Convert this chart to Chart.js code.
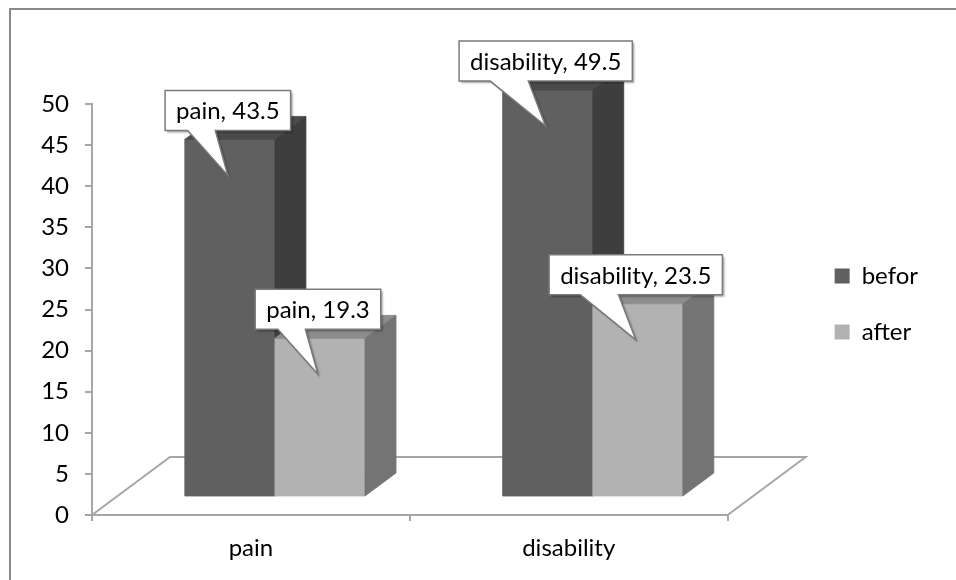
<!DOCTYPE html>
<html>
<head>
<meta charset="utf-8">
<script src="https://cdn.jsdelivr.net/npm/chart.js@4.4.1/dist/chart.umd.min.js"></script>
<style>
  html, body { margin: 0; padding: 0; background: #fff; }
  canvas { display: block; }
</style>
</head>
<body>
<canvas id="chart" width="956" height="580"></canvas>
<script>
// ---- data ----
const categories = ['pain', 'disability'];
const seriesNames = ['befor', 'after'];
const beforValues = [43.5, 49.5];
const afterValues = [19.3, 23.5];
const yMin = 0, yMax = 50, yStep = 5;

// ---- look of the 3D columns ----
const FLOOR_DEPTH = { dx: 78, dy: -58 };   // depth of the floor plate
const BAR_SHIFT   = { dx: 24, dy: -18 };   // columns stand mid-depth on the floor
const BAR_DEPTH   = { dx: 31, dy: -23 };   // thickness of each column
const LINE_GRAY = '#a6a6a6';
const FONT = { family: 'Lato', size: 24 };

function poly(ctx, pts, color) {
  ctx.beginPath();
  ctx.moveTo(pts[0][0], pts[0][1]);
  for (let k = 1; k < pts.length; k++) ctx.lineTo(pts[k][0], pts[k][1]);
  ctx.closePath();
  ctx.fillStyle = color;
  ctx.fill();
  ctx.strokeStyle = color;
  ctx.lineWidth = 0.8;
  ctx.stroke();
}

// white speech-bubble label pointing into the column face
function callout(ctx, c) {
  ctx.font = `${FONT.size}px ${FONT.family}`;
  const tw = ctx.measureText(c.text).width;
  const w = tw + 22, h = 40;
  const tipX = c.x - 2, tipY = c.y + 36;
  const left = tipX - w / 2, bottom = tipY - 45, top = bottom - h, right = left + w;
  ctx.beginPath();
  ctx.moveTo(left, top);
  ctx.lineTo(right, top);
  ctx.lineTo(right, bottom);
  ctx.lineTo(left + 0.40 * w, bottom);
  ctx.lineTo(tipX, tipY);
  ctx.lineTo(left + 0.18 * w, bottom);
  ctx.lineTo(left, bottom);
  ctx.closePath();
  ctx.save();
  ctx.shadowColor = 'rgba(0,0,0,0.35)';
  ctx.shadowOffsetX = 2;
  ctx.shadowOffsetY = 2;
  ctx.shadowBlur = 2;
  ctx.fillStyle = '#ffffff';
  ctx.fill();
  ctx.restore();
  ctx.strokeStyle = '#7a7a7a';
  ctx.lineWidth = 1.5;
  ctx.stroke();
  ctx.fillStyle = '#000000';
  ctx.textAlign = 'center';
  ctx.textBaseline = 'middle';
  ctx.fillText(c.text, left + w / 2, top + h / 2 + 1);
}

const frame = {
  id: 'frame',
  beforeDraw(chart) {
    const ctx = chart.ctx;
    ctx.save();
    ctx.strokeStyle = '#8a8a8a';
    ctx.lineWidth = 2;
    ctx.beginPath();
    ctx.moveTo(10, chart.height);
    ctx.lineTo(10, 9);
    ctx.lineTo(chart.width, 9);
    ctx.stroke();
    ctx.restore();
  }
};

const bars3d = {
  id: 'bars3d',
  beforeDatasetsDraw(chart) {
    const { ctx, chartArea, scales } = chart;
    const base = scales.y.getPixelForValue(yMin);
    const L = chartArea.left, R = chartArea.right;
    ctx.save();
    // floor plate
    ctx.strokeStyle = LINE_GRAY;
    ctx.lineWidth = 2;
    ctx.beginPath();
    ctx.moveTo(L, base);
    ctx.lineTo(L + FLOOR_DEPTH.dx, base + FLOOR_DEPTH.dy);
    ctx.lineTo(R + FLOOR_DEPTH.dx, base + FLOOR_DEPTH.dy);
    ctx.lineTo(R, base);
    ctx.stroke();

    const labels = [];
    chart.data.datasets.forEach((ds, i) => {
      const meta = chart.getDatasetMeta(i);
      meta.data.forEach((el, j) => {
        const l = el.x - el.width / 2 + BAR_SHIFT.dx, r = l + el.width;
        const t = el.y + BAR_SHIFT.dy, b = el.base + BAR_SHIFT.dy;
        poly(ctx, [[l, t], [r, t], [r, b], [l, b]], ds.backgroundColor);
        poly(ctx, [[l, t], [l + BAR_DEPTH.dx, t + BAR_DEPTH.dy], [r + BAR_DEPTH.dx, t + BAR_DEPTH.dy], [r, t]], ds.topColor);
        poly(ctx, [[r, t], [r + BAR_DEPTH.dx, t + BAR_DEPTH.dy], [r + BAR_DEPTH.dx, b + BAR_DEPTH.dy], [r, b]], ds.sideColor);
        labels.push({ x: (l + r) / 2, y: t, text: `${categories[j]}, ${ds.data[j]}` });
      });
    });
    labels.forEach(c => callout(ctx, c));
    ctx.restore();
    return false;
  }
};

new Chart(document.getElementById('chart'), {
  type: 'bar',
  data: {
    labels: categories,
    datasets: [
      { label: seriesNames[0], data: beforValues, backgroundColor: '#606060', topColor: '#4b4b4b', sideColor: '#3e3e3e',
        borderWidth: 0, categoryPercentage: 0.567, barPercentage: 1 },
      { label: seriesNames[1], data: afterValues, backgroundColor: '#b2b2b2', topColor: '#8d8d8d', sideColor: '#747474',
        borderWidth: 0, categoryPercentage: 0.567, barPercentage: 1 }
    ]
  },
  options: {
    responsive: false,
    animation: false,
    devicePixelRatio: 1,
    layout: { padding: { top: 104, left: 0, right: 28, bottom: 0 } },
    plugins: {
      legend: {
        position: 'right',
        fullSize: false,
        // empty title with negative padding nudges the entries upward
        title: { display: true, text: '', font: { size: 1 }, padding: { top: -6, bottom: -6 } },
        labels: { boxWidth: 15, boxHeight: 15, padding: 32, color: '#000', font: FONT }
      },
      tooltip: { enabled: false }
    },
    scales: {
      x: {
        offset: true,
        grid: { offset: true, drawOnChartArea: false, tickLength: 6, color: LINE_GRAY, lineWidth: 2 },
        border: { color: LINE_GRAY, width: 2 },
        ticks: { font: FONT, color: '#000', padding: 13 },
        afterFit(s) { s.height = 65; }
      },
      y: {
        min: yMin, max: yMax,
        ticks: { stepSize: yStep, font: FONT, color: '#000', padding: 16 },
        grid: { drawOnChartArea: false, tickLength: 7, color: LINE_GRAY, lineWidth: 2 },
        border: { color: LINE_GRAY, width: 2 },
        afterFit(s) { s.width = 92; }
      },
      gap: {
        type: 'linear', axis: 'y', position: 'right', display: true,
        ticks: { display: false }, grid: { display: false }, border: { display: false },
        afterFit(s) { s.width = 75; }
      }
    }
  },
  plugins: [frame, bars3d]
});
</script>
</body>
</html>
